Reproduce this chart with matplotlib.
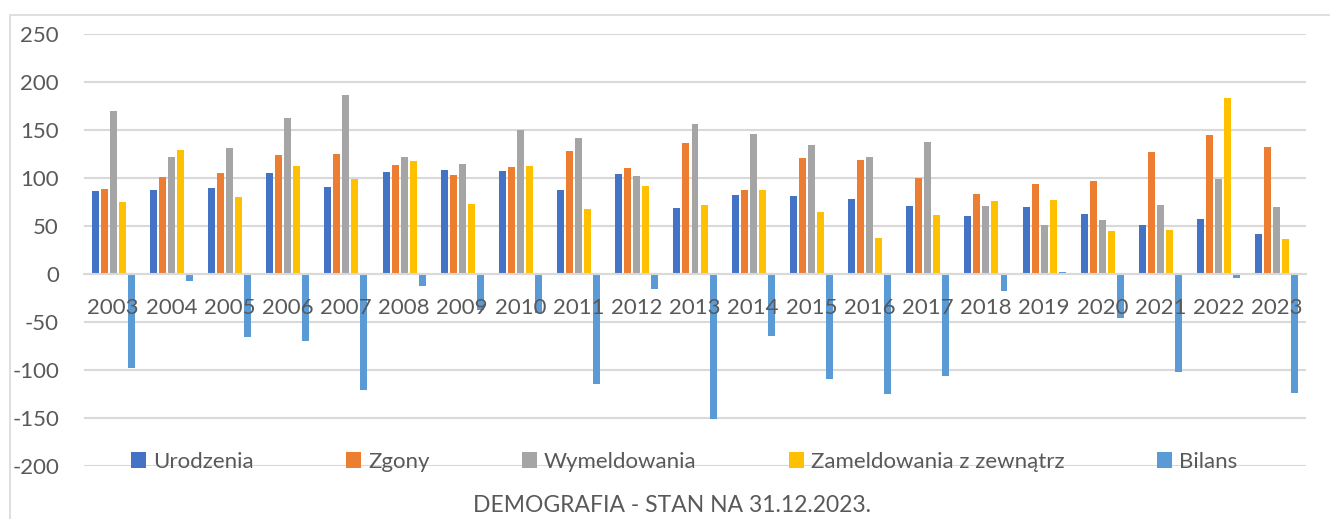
import matplotlib
matplotlib.use('Agg')
import numpy as np
import matplotlib.pyplot as plt
from matplotlib.patches import Rectangle

# dane demograficzne
years = [str(y) for y in range(2003, 2024)]
urodzenia = [86, 87, 90, 105, 91, 106, 108, 107, 87, 104, 69, 82, 81, 78, 71, 60, 70, 62, 51, 57, 42]
zgony = [89, 101, 105, 124, 125, 114, 103, 111, 128, 110, 136, 88, 121, 119, 100, 83, 94, 97, 127, 145, 132]
wymeldowania = [170, 122, 131, 163, 186, 122, 115, 150, 142, 102, 156, 146, 134, 122, 138, 71, 51, 56, 72, 99, 70]
zameldowania = [75, 129, 80, 112, 99, 118, 73, 113, 68, 92, 72, 87, 65, 38, 61, 76, 77, 45, 46, 183, 36]
bilans = [-98, -7, -66, -70, -121, -12, -37, -41, -115, -16, -151, -65, -109, -125, -106, -18, 2, -46, -102, -4, -124]

series = [
    ("Urodzenia", urodzenia, "#4472C4"),
    ("Zgony", zgony, "#ED7D31"),
    ("Wymeldowania", wymeldowania, "#A5A5A5"),
    ("Zameldowania z zewnątrz", zameldowania, "#FFC000"),
    ("Bilans", bilans, "#5B9BD5"),
]

plt.rcParams['font.family'] = ['Lato', 'DejaVu Sans']
plt.rcParams['axes.unicode_minus'] = False
txt = '#595959'
grid = '#D9D9D9'

W, H = 1330, 519
fig = plt.figure(figsize=(W / 100, H / 100), dpi=100)
ax = fig.add_axes([84 / W, 1 - 466 / H, (1306 - 84) / W, (466 - 34) / H])

# ramka obszaru wykresu
fig.patches.append(Rectangle((10 / W, -0.1), 1.2, 1 - 15 / H + 0.1, transform=fig.transFigure,
                             fill=False, edgecolor=grid, lw=1.2))

x = np.arange(len(years))
pitch = 0.155
width = 0.12
for i, (name, vals, col) in enumerate(series):
    ax.bar(x + (i - 2) * pitch, vals, width, color=col, label=name, zorder=2)

ax.set_xlim(-0.5, len(years) - 0.5)
ax.set_ylim(-200, 250)
yticks = list(range(-200, 251, 50))
ax.set_yticks(yticks)
# linie siatki pod slupkami, etykiety lat nad slupkami
for yv in yticks:
    ax.axhline(yv, color=grid, lw=1.5, zorder=0)
ax.set_axisbelow(False)
for s in ['top', 'right', 'left']:
    ax.spines[s].set_visible(False)
ax.spines['bottom'].set_position(('data', 0))
ax.spines['bottom'].set_color(grid)
ax.spines['bottom'].set_linewidth(1.5)
ax.set_xticks(x)
ax.set_xticklabels(years)
ax.tick_params(axis='x', length=0, pad=17, labelsize=16, colors=txt)
ax.tick_params(axis='y', length=0, pad=18, labelsize=16, colors=txt)

fig.legend(loc='center', bbox_to_anchor=(684 / W, 1 - 462 / H), ncol=5, frameon=False,
           fontsize=16, labelcolor=txt, handlelength=0.7, handleheight=0.7,
           handletextpad=0.3, columnspacing=4.15)

fig.text(672 / W, 1 - 505 / H, "DEMOGRAFIA - STAN NA 31.12.2023.", ha='center', va='center',
         fontsize=16.5, color=txt)

fig.savefig('out.png', dpi=100)
